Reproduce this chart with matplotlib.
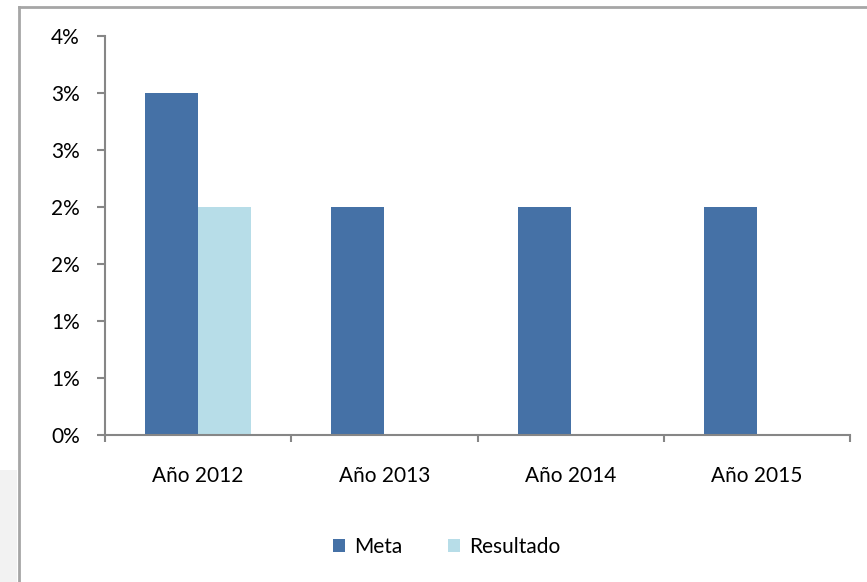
import matplotlib
matplotlib.use("Agg")
import matplotlib.pyplot as plt
from matplotlib.ticker import FuncFormatter, FixedLocator
from matplotlib.patches import Rectangle
from matplotlib.lines import Line2D
import numpy as np

categories = ["Año 2012", "Año 2013", "Año 2014", "Año 2015"]
meta = [3.0, 2.0, 2.0, 2.0]
resultado = [2.0, None, None, None]
series_names = ["Meta", "Resultado"]
colors = ["#4571a6", "#b7dde8"]

plt.rcParams['font.family'] = ['Lato', 'DejaVu Sans']
FS = 15

W, H = 867, 582
fig = plt.figure(figsize=(W / 100, H / 100), dpi=100)

# light gray background strip at lower left (outside chart frame)
fig.patches.append(Rectangle((0, 0), 17 / W, (582 - 470) / H, transform=fig.transFigure,
                             facecolor="#f2f2f2", edgecolor="none", zorder=0))
# chart frame lines
fig.lines.append(Line2D([19 / W, 19 / W], [0, 1 - 7 / H], transform=fig.transFigure,
                        color="#a6a6a6", lw=2))
fig.lines.append(Line2D([19 / W, 1], [1 - 7 / H, 1 - 7 / H], transform=fig.transFigure,
                        color="#a6a6a6", lw=2))

ax = fig.add_axes([105 / W, (H - 435) / H, (850 - 105) / W, (435 - 36) / H])

x = np.arange(len(categories))
w = 0.285
ax.bar(x - w / 2, meta, width=w, color=colors[0], label=series_names[0], zorder=2)
res_vals = [v if v is not None else 0 for v in resultado]
ax.bar(x + w / 2, res_vals, width=w, color=colors[1], label=series_names[1], zorder=2)

ax.set_xlim(-0.5, len(categories) - 0.5)
ax.set_ylim(0, 3.5)
ax.yaxis.set_major_locator(FixedLocator(np.arange(0, 3.51, 0.5)))
ax.yaxis.set_major_formatter(FuncFormatter(lambda v, p: f"{int(np.floor(v + 0.5))}%"))

ax.set_xticks(x)
ax.set_xticklabels(categories)
ax.set_xticks(np.arange(-0.5, len(categories)), minor=True)
ax.tick_params(axis='x', which='major', length=0, pad=22, labelsize=FS, colors="#000000")
ax.tick_params(axis='x', which='minor', length=5, width=1.5, color="#868686", direction='out')
ax.tick_params(axis='y', which='major', length=6, width=1.5, color="#868686", pad=12,
               labelsize=FS, labelcolor="#000000")

for s in ["top", "right"]:
    ax.spines[s].set_visible(False)
for s in ["left", "bottom"]:
    ax.spines[s].set_color("#868686")
    ax.spines[s].set_linewidth(1.5)

handles, labels = ax.get_legend_handles_labels()
fig.legend(handles, labels, loc="center", bbox_to_anchor=(447 / W, 1 - 547 / H), ncol=2,
           frameon=False, fontsize=FS, handlelength=0.55, handleheight=0.55,
           handletextpad=0.45, columnspacing=2.2)

fig.savefig("out.png", dpi=100, facecolor="white")
